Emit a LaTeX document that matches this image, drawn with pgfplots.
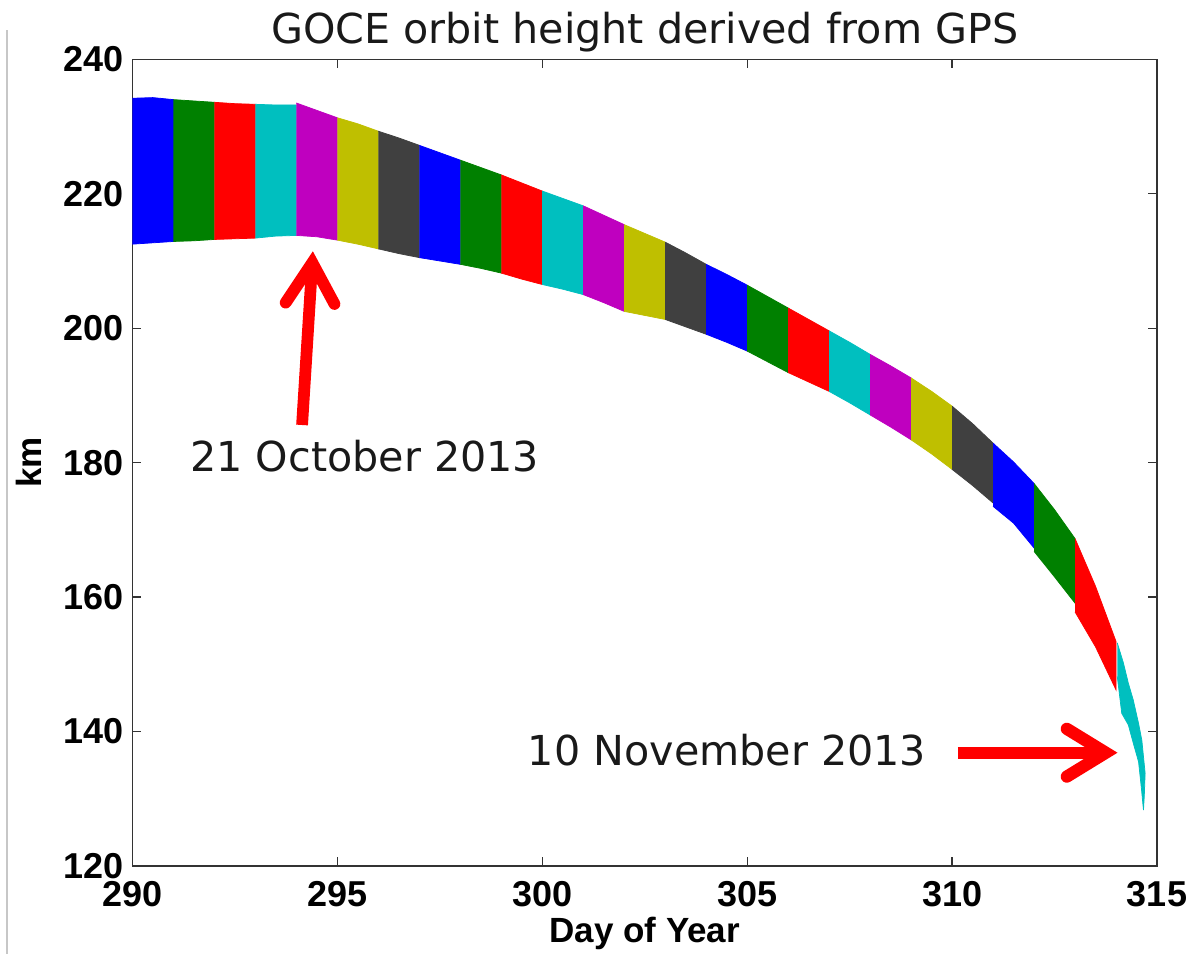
\documentclass[border=0pt]{standalone}
\usepackage{fontspec}
\setmainfont{Liberation Sans}
\newfontfamily\dejavu{DejaVu Sans}
\usepackage{pgfplots}
\pgfplotsset{compat=1.18}

% MATLAB default line colours, one per day
\definecolor{mBlue}{rgb}{0,0,1}
\definecolor{mGreen}{rgb}{0,0.5,0}
\definecolor{mRed}{rgb}{1,0,0}
\definecolor{mCyan}{rgb}{0,0.75,0.75}
\definecolor{mMag}{rgb}{0.75,0,0.75}
\definecolor{mYel}{rgb}{0.75,0.75,0}
\definecolor{mGray}{rgb}{0.25,0.25,0.25}

\pgfplotsset{day/.style={fill=#1, draw=#1, line width=0.3pt}}

\begin{document}
\begin{tikzpicture}
\path[use as bounding box] (-52.96pt,-35.2pt) rectangle (423.04pt,346.4pt);
\draw[black!22, line width=0.6pt] (-50.2pt,-35.2pt) -- (-50.2pt,334.4pt);
\begin{axis}[
    scale only axis, width=409.84pt, height=322.68pt,
    xmin=290, xmax=315, ymin=120, ymax=240,
    xtick={290,295,...,315}, ytick={120,140,...,240},
    tick align=inside, major tick length=3.6pt,
    axis line style={black!80, line width=0.5pt},
    every tick/.style={black!80, line width=0.5pt},
    /pgf/number format/assume math mode=true,
    /pgf/number format/1000 sep={},
    ticklabel style={font=\fontsize{14.4}{16}\selectfont\bfseries},
    xticklabel style={yshift=-2.8pt},
    xlabel={Day of Year}, ylabel={km},
    label style={font=\fontsize{14}{16}\selectfont\bfseries},
    xlabel style={at={(axis description cs:0.5,-0.052)}, anchor=north},
    ylabel style={at={(axis description cs:-0.101,0.5)}, anchor=center},
    every axis title shift=0pt,
    title={GOCE orbit height derived from GPS},
    title style={font=\dejavu\fontsize{16.5}{19}\selectfont, text=black!90,
        at={(axis description cs:0.5,1.0198)}, anchor=base},
]
% each day: upper envelope, then lower envelope back
\addplot[day=mBlue]  coordinates {(290,234.2) (290.5,234.3) (291,234.0) (291,212.9) (290.5,212.7) (290,212.5)};
\addplot[day=mGreen] coordinates {(291,234.0) (291.5,233.8) (292,233.6) (292,213.2) (291.5,213.0) (291,212.9)};
\addplot[day=mRed]   coordinates {(292,233.6) (292.5,233.4) (293,233.3) (293,213.4) (292.5,213.3) (292,213.2)};
\addplot[day=mCyan]  coordinates {(293,233.3) (293.5,233.2) (294,233.2) (294,213.8) (293.5,213.7) (293,213.4)};
\addplot[day=mMag]   coordinates {(294,233.5) (294.5,232.4) (295,231.3) (295,213.1) (294.5,213.6) (294,213.8)};
\addplot[day=mYel]   coordinates {(295,231.3) (295.5,230.4) (296,229.3) (296,211.8) (295.5,212.5) (295,213.1)};
\addplot[day=mGray]  coordinates {(296,229.3) (296.5,228.3) (297,227.2) (297,210.5) (296.5,211.1) (296,211.8)};
\addplot[day=mBlue]  coordinates {(297,227.2) (297.5,226.1) (298,225.0) (298,209.5) (297.5,210.0) (297,210.5)};
\addplot[day=mGreen] coordinates {(298,225.0) (298.5,223.9) (299,222.8) (299,208.2) (298.5,208.9) (298,209.5)};
\addplot[day=mRed]   coordinates {(299,222.8) (299.5,221.6) (300,220.4) (300,206.5) (299.5,207.3) (299,208.2)};
\addplot[day=mCyan]  coordinates {(300,220.4) (300.5,219.3) (301,218.2) (301,205.0) (300.5,205.8) (300,206.5)};
\addplot[day=mMag]   coordinates {(301,218.2) (301.5,216.8) (302,215.4) (302,202.5) (301.5,203.8) (301,205.0)};
\addplot[day=mYel]   coordinates {(302,215.4) (302.5,214.1) (303,212.8) (303,201.3) (302.5,201.9) (302,202.5)};
\addplot[day=mGray]  coordinates {(303,212.8) (303.5,211.2) (304,209.5) (304,199.1) (303.5,200.2) (303,201.3)};
\addplot[day=mBlue]  coordinates {(304,209.5) (304.5,208.0) (305,206.4) (305,196.6) (304.5,197.9) (304,199.1)};
\addplot[day=mGreen] coordinates {(305,206.4) (305.5,204.7) (306,203.0) (306,193.4) (305.5,195.0) (305,196.6)};
\addplot[day=mRed]   coordinates {(306,203.0) (306.5,201.3) (307,199.6) (307,190.6) (306.5,192.0) (306,193.4)};
\addplot[day=mCyan]  coordinates {(307,199.6) (307.5,197.9) (308,196.1) (308,187.1) (307.5,188.9) (307,190.6)};
\addplot[day=mMag]   coordinates {(308,196.1) (308.5,194.4) (309,192.6) (309,183.4) (308.5,185.3) (308,187.1)};
\addplot[day=mYel]   coordinates {(309,192.6) (309.5,190.6) (310,188.4) (310,179.0) (309.5,181.3) (309,183.4)};
\addplot[day=mGray]  coordinates {(310,188.4) (310.5,185.8) (311,182.9) (311,174.0) (310.5,176.6) (310,179.0)};
\addplot[day=mBlue]  coordinates {(311,182.9) (311.5,180.1) (312,176.9) (312,167.3) (311.5,171.0) (311,173.5)};
\addplot[day=mGreen] coordinates {(312,176.9) (312.5,173.0) (313,168.7) (313,159.1) (312.5,163.0) (312,166.8)};
\addplot[day=mRed]   coordinates {(313,168.7) (313.5,161.6) (314,153.4) (314,146.2) (313.5,152.6) (313,157.8)};
\addplot[day=mCyan]  coordinates {(314.03,153.2) (314.18,150.2) (314.30,147.2) (314.42,144.7) (314.55,141.2)
    (314.63,138.7) (314.71,133.8) (314.69,130.5) (314.67,128.3) (314.62,131.5) (314.55,135.5)
    (314.42,138.3) (314.30,141.0) (314.14,142.7) (314.03,148.2)};

% annotations
\draw[red, line width=4.7pt, line cap=butt] (axis cs:294.14,185.6) -- (axis cs:294.38,209.0);
\draw[red, line width=4.7pt, line cap=round, line join=miter]
    (axis cs:293.74,203.8) -- (axis cs:294.39,209.74) -- (axis cs:294.93,203.6);
\node[font=\dejavu\fontsize{16.5}{19}\selectfont, text=black!90, anchor=base]
    at (axis cs:295.67,178.65) {21 October 2013};
\draw[red, line width=4.9pt, line cap=butt] (axis cs:310.14,136.8) -- (axis cs:313.6,136.8);
\draw[red, line width=4.9pt, line cap=round, line join=miter]
    (axis cs:312.80,140.4) -- (axis cs:313.75,136.85) -- (axis cs:312.80,133.3);
\node[font=\dejavu\fontsize{16.5}{19}\selectfont, text=black!90, anchor=base]
    at (axis cs:304.51,134.92) {10 November 2013};
\end{axis}
\end{tikzpicture}
\end{document}
